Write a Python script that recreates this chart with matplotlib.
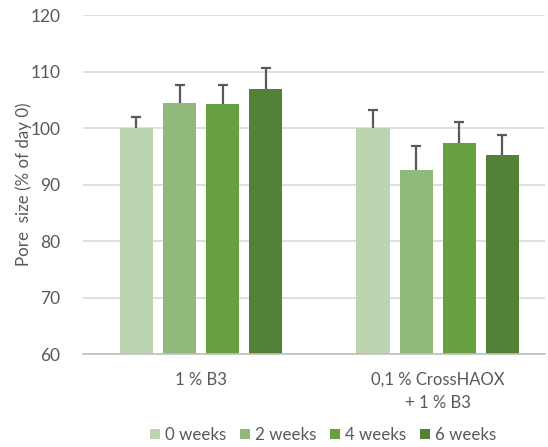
import numpy as np
import matplotlib.pyplot as plt

groups = ["1 % B3", "0,1 % CrossHAOX\n+ 1 % B3"]
series = ["0 weeks", "2 weeks", "4 weeks", "6 weeks"]
values = [
    [100.0, 100.0],
    [104.5, 92.6],
    [104.2, 97.3],
    [107.0, 95.2],
]
errors = [
    [2.0, 3.2],
    [3.1, 4.2],
    [3.4, 3.7],
    [3.7, 3.6],
]
colors = ["#BCD5B0", "#92B97C", "#67A040", "#538135"]

plt.rcParams["font.family"] = ["Lato", "DejaVu Sans"]
text_color = "#595959"

fig = plt.figure(figsize=(5.48, 4.47), dpi=100)
ax = fig.add_axes([0.151, 0.208, 0.844, 0.758])

x = np.arange(len(groups))
width = 0.14
step = 0.182
for i, name in enumerate(series):
    pos = x + (i - 1.5) * step
    top = np.array(values[i]) + np.array(errors[i])
    ax.bar(pos, values[i], width, color=colors[i], label=name, zorder=2)
    # only the upper half of the error bar, like Excel's "plus" style
    ax.vlines(pos, values[i], top, color="#595959", linewidth=1.6, zorder=3)
    ax.plot(pos, top, linestyle="none", marker="_", markersize=7,
            markeredgewidth=1.6, color="#595959", zorder=3)

ax.set_ylim(60, 120)
ax.set_yticks(range(60, 121, 10))
ax.set_xlim(-0.5, 1.455)
ax.set_xticks(x)
ax.set_xticklabels(groups, fontsize=12, color=text_color, linespacing=1.5)
ax.tick_params(axis="y", labelsize=12.5, colors=text_color, length=0, pad=16)
ax.tick_params(axis="x", length=0, pad=13)
ax.grid(axis="y", color="#D9D9D9", linewidth=1.2, zorder=0)
for s in ["top", "right", "left"]:
    ax.spines[s].set_visible(False)
ax.spines["bottom"].set_color("#BFBFBF")
ax.spines["bottom"].set_linewidth(1.2)
ax.set_ylabel("Pore  size (% of day 0)", fontsize=12.2, color=text_color, labelpad=-1)

ax.legend(loc="upper center", bbox_to_anchor=(0.52, -0.17), ncol=4, frameon=False,
          fontsize=12.2, labelcolor=text_color, handlelength=0.6, handleheight=0.6,
          handletextpad=0.3, columnspacing=0.8)

fig.savefig("out.png", dpi=100)
